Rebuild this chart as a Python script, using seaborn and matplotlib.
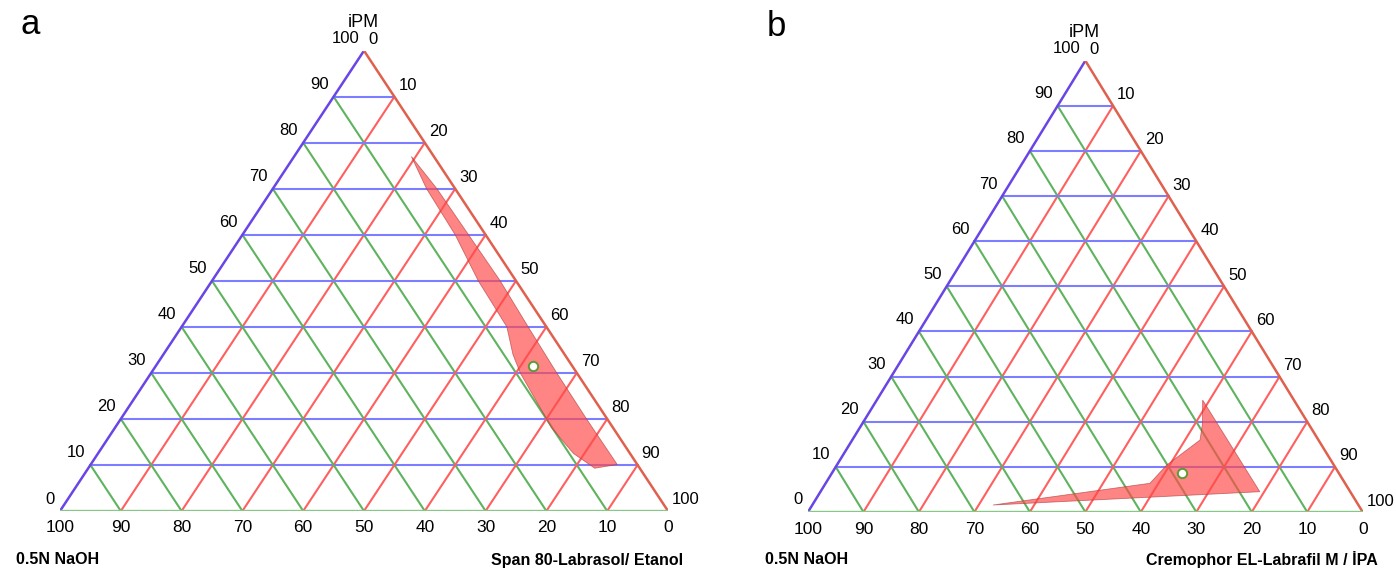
import numpy as np
import seaborn as sns
import matplotlib.pyplot as plt

sns.set_theme(style='white')
plt.rcParams['font.family'] = ['Liberation Sans', 'DejaVu Sans']
plt.rcParams['text.color'] = 'black'

ticks = list(range(0, 101, 10))

# panel a: microemulsion region, (iPM %, surfactant mix %) along the outline
a_region_ipm = [77.0, 70.0, 60.0, 50.0, 40.0, 30.0, 20.0, 10.1, 9.3, 12.5, 18.0, 21.2, 30.0, 34.0, 40.0, 50.0, 60.0, 70.0]
a_region_mix = [19.3, 27.0, 37.2, 47.4, 57.0, 66.7, 76.6, 86.6, 83.3, 78.2, 71.9, 68.9, 60.7, 57.5, 53.5, 43.8, 35.0, 25.3]
a_point_ipm = [31.5]
a_point_mix = [62.1]

# panel b
b_region_ipm = [24.8, 19.65, 15.95, 12.6, 10.4, 6.36, 1.55, 4.5]
b_region_mix = [58.75, 61.3, 62.7, 60.76, 59.47, 58.47, 32.6, 79.2]
b_point_ipm = [8.6]
b_point_mix = [63.1]

top_label = 'iPM'
left_label = '0.5N NaOH'
a_right_label = 'Span 80-Labrasol/ Etanol'
b_right_label = 'Cremophor EL-Labrafil M / İPA'


def to_xy(ipm, mix):
    ipm = np.asarray(ipm, float)
    mix = np.asarray(mix, float)
    return mix + ipm / 2, ipm


def draw_ternary(ax, reg_ipm, reg_mix, pt_ipm, pt_mix):
    # grid lines
    for v in ticks[1:-1]:
        ax.plot([v / 2, 100 - v / 2], [v, v], color='#7d7dff', lw=1.5, zorder=1)
        ax.plot([100 - v, (100 - v) / 2], [0, 100 - v], color='#5fb35f', lw=1.5, zorder=1)
        ax.plot([v, v + (100 - v) / 2], [0, 100 - v], color='#ff5f5f', lw=1.5, zorder=1)
    # edges
    ax.plot([0, 50], [0, 100], color='#6a45e6', lw=1.8, zorder=2)
    ax.plot([50, 100], [100, 0], color='#e0604e', lw=1.8, zorder=2)
    ax.plot([0, 100], [0, 0], color='#86c886', lw=2.4, zorder=2)

    x, y = to_xy(reg_ipm, reg_mix)
    ax.fill(x, y, facecolor='#ff4a4a', alpha=0.68, edgecolor='#b04040', lw=0.6, zorder=3)

    px, py = to_xy(pt_ipm, pt_mix)
    sns.scatterplot(x=px, y=py, ax=ax, s=45, color='white', edgecolor='#5f9a35',
                    linewidth=1.4, zorder=4, legend=False)

    for v in ticks:
        ax.annotate(str(v), xy=(v / 2, v), xytext=(-5, 12), textcoords='offset pixels',
                    ha='right', va='center', fontsize=12)
        ax.annotate(str(v), xy=(v + (100 - v) / 2, 100 - v), xytext=(4, 11),
                    textcoords='offset pixels', ha='left', va='center', fontsize=12)
        ax.annotate(str(v), xy=(100 - v, 0), xytext=(0, -17), textcoords='offset pixels',
                    ha='center', va='center', fontsize=12.5)
    ax.annotate(top_label, xy=(50, 100), xytext=(-1, 28), textcoords='offset pixels',
                ha='center', va='center', fontsize=13)

    ax.set_xlim(0, 100)
    ax.set_ylim(0, 100)
    ax.set_axis_off()


fig = plt.figure(figsize=(13.96, 5.70), dpi=100)
W, H = 1396, 570
ax_a = fig.add_axes([60 / W, 59 / H, 608 / W, 460.3 / H])
ax_b = fig.add_axes([808 / W, 58 / H, 554.7 / W, 451.3 / H])

draw_ternary(ax_a, a_region_ipm, a_region_mix, a_point_ipm, a_point_mix)
draw_ternary(ax_b, b_region_ipm, b_region_mix, b_point_ipm, b_point_mix)

fig.text(30 / W, 1 - 24 / H, 'a', fontsize=25, ha='center', va='center')
fig.text(776 / W, 1 - 27 / H, 'b', fontsize=25, ha='center', va='center')

fig.text(16 / W, 1 - 560 / H, left_label, fontsize=11.5, fontweight='bold', ha='left', va='center')
fig.text(683 / W, 1 - 560 / H, a_right_label, fontsize=11.5, fontweight='bold', ha='right', va='center')
fig.text(765 / W, 1 - 560 / H, left_label, fontsize=11.5, fontweight='bold', ha='left', va='center')
fig.text(1378 / W, 1 - 560 / H, b_right_label, fontsize=11.5, fontweight='bold', ha='right', va='center')

fig.savefig('out.png', dpi=100, facecolor='white')
